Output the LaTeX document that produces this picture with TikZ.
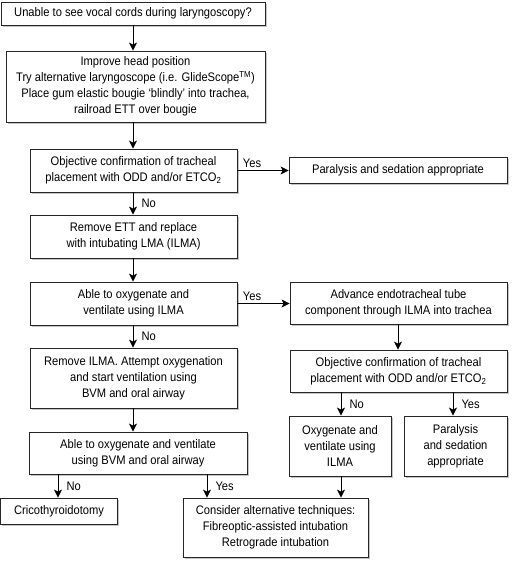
\documentclass[tikz,border=0pt]{standalone}
\usepackage{fontspec}
\setmainfont[FakeStretch=0.9]{Liberation Sans}
\usetikzlibrary{shadows,arrows.meta}
\begin{document}
\begin{tikzpicture}[x=1pt,y=-1pt,
  box/.style={draw=black!85, line width=0.8pt, fill=white, align=center, inner sep=0pt,
    font=\fontsize{12.4}{16}\selectfont,
    drop shadow={shadow xshift=1.6pt, shadow yshift=-1.6pt, fill=black!45, opacity=0.5}},
  arr/.style={-{Stealth[length=8pt,width=8pt,inset=2pt]}, line width=1pt},
  lab/.style={font=\fontsize{12.4}{16}\selectfont, inner sep=1pt}]
\useasboundingbox (0,0) rectangle (512,564);

\node[box, minimum width=264pt, minimum height=23pt] (b1) at (133,13.5)
  {Unable to see vocal cords during laryngoscopy?};
\node[box, minimum width=259pt, minimum height=71pt] (b2) at (135.5,86.5)
  {Improve head position\\Try alternative laryngoscope (i.e. GlideScope\textsuperscript{TM})\\Place gum elastic bougie ‘blindly’ into trachea,\\railroad ETT over bougie};
\node[box, minimum width=207pt, minimum height=43pt] (b3) at (133.5,170.5)
  {Objective confirmation of tracheal\\placement with ODD and/or ETCO\textsubscript{2}};
\node[box, minimum width=218pt, minimum height=26pt] (pa) at (398,170.5)
  {Paralysis and sedation appropriate};
\node[box, minimum width=207pt, minimum height=43pt] (b4) at (133.5,236.5)
  {Remove ETT and replace\\with intubating LMA (ILMA)};
\node[box, minimum width=207pt, minimum height=43pt] (b5) at (133.5,303.5)
  {Able to oxygenate and\\ventilate using ILMA};
\node[box, minimum width=217pt, minimum height=42pt] (adv) at (398.5,303.5)
  {Advance endotracheal tube\\component through ILMA into trachea};
\node[box, minimum width=207pt, minimum height=60pt] (b6) at (133.5,378)
  {Remove ILMA. Attempt oxygenation\\and start ventilation using\\BVM and oral airway};
\node[box, minimum width=217pt, minimum height=42pt] (ob2) at (398.5,371)
  {Objective confirmation of tracheal\\placement with ODD and/or ETCO\textsubscript{2}};
\node[box, minimum width=218pt, minimum height=42pt] (b7) at (138,453)
  {Able to oxygenate and ventilate\\using BVM and oral airway};
\node[box, minimum width=102pt, minimum height=60pt] (oxy) at (340,446)
  {Oxygenate and\\ventilate using\\ILMA};
\node[box, minimum width=103pt, minimum height=60pt] (pb) at (455.5,446)
  {Paralysis\\and sedation\\appropriate};
\node[box, minimum width=117pt, minimum height=26pt] (cri) at (59,511)
  {Cricothyroidotomy};
\node[box, minimum width=185pt, minimum height=59pt] (con) at (275.5,527.5)
  {Consider alternative techniques:\\Fibreoptic-assisted intubation\\Retrograde intubation};

\coordinate (xa) at (133,0);
\coordinate (xn) at (58,0);
\coordinate (xy) at (207,0);
\coordinate (xo) at (341,0);
\coordinate (xp) at (453,0);
\coordinate (xv) at (398,0);

\draw[arr] (b1.south -| xa) -- (b2.north -| xa);
\draw[arr] (b2.south -| xa) -- (b3.north -| xa);
\draw[arr] (b3.south -| xa) -- node[lab, right, xshift=7pt] (l1) {No} (b4.north -| xa);
\draw[arr] (b4.south -| xa) -- (b5.north -| xa);
\draw[arr] (b5.south -| xa) -- node[lab, right, xshift=7pt] (l2) {No} (b6.north -| xa);
\draw[arr] (b6.south -| xa) -- (b7.north -| xa);
\draw[arr] (b7.south -| xn) -- node[lab, right, xshift=7pt] (l3) {No} (cri.north -| xn);
\draw[arr] (b7.south -| xy) -- node[lab, right, xshift=7pt] (l4) {Yes} (con.north -| xy);
\draw[arr] (b3.east) -- node[lab, pos=0, anchor=south west, xshift=4pt, yshift=1pt] (l5) {Yes} (b3.east -| pa.west);
\draw[arr] (b5.east) -- node[lab, pos=0, anchor=south west, xshift=4pt, yshift=1pt] (l6) {Yes} (b5.east -| adv.west);
\draw[arr] (adv.south -| xv) -- (ob2.north -| xv);
\draw[arr] (ob2.south -| xo) -- node[lab, right, xshift=7pt] (l7) {No} (oxy.north -| xo);
\draw[arr] (ob2.south -| xp) -- node[lab, right, xshift=7pt] (l8) {Yes} (pb.north -| xp);
\draw[arr] (oxy.south -| xo) -- (con.north -| xo);
\end{tikzpicture}
\end{document}
